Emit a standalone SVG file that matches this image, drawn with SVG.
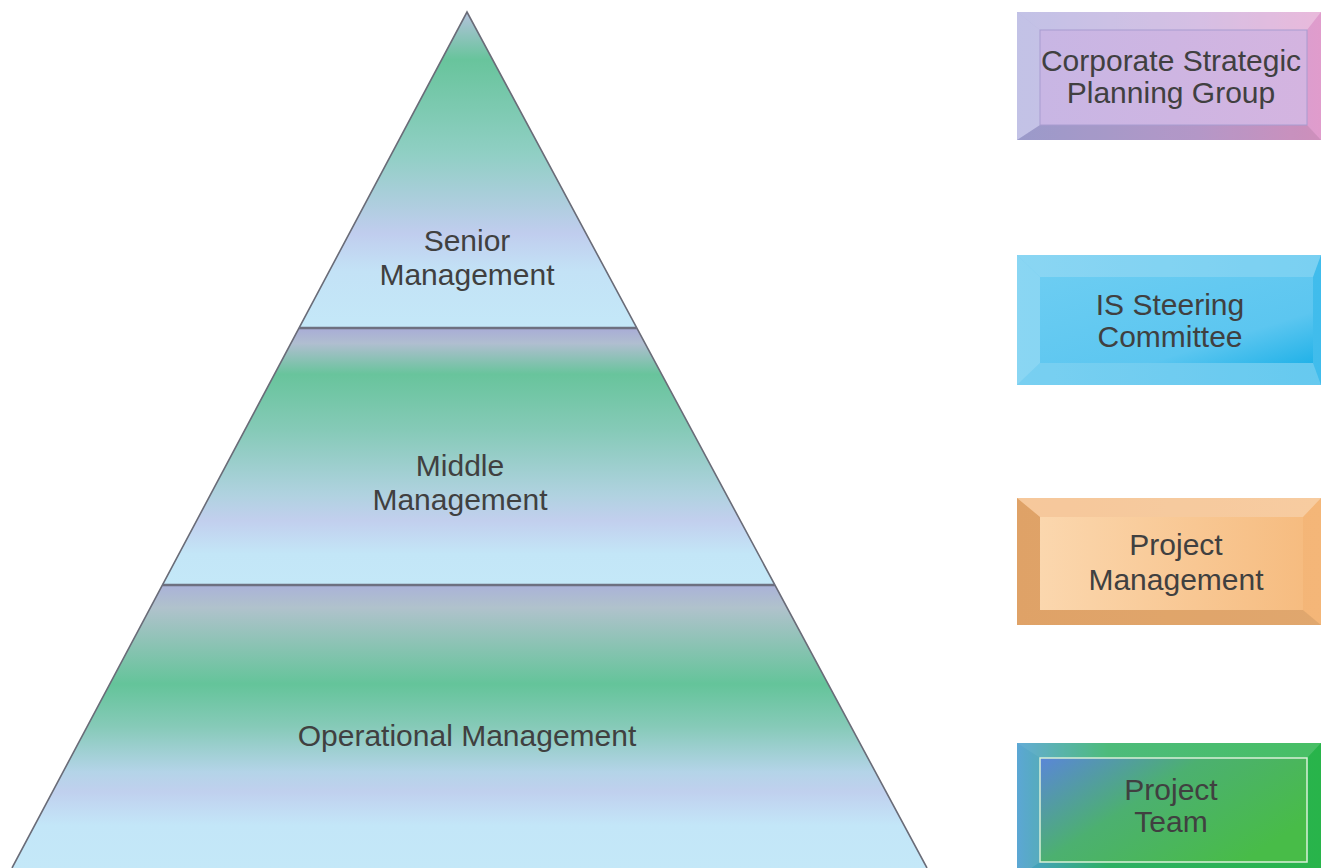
<svg xmlns="http://www.w3.org/2000/svg" width="1321" height="868" viewBox="0 0 1321 868">
<defs>
<linearGradient id="gSenior" x1="0" y1="0" x2="0" y2="1">
<stop offset="0" stop-color="#b4c2dc"/><stop offset="0.15" stop-color="#68c49c"/><stop offset="0.45" stop-color="#90cfc4"/><stop offset="0.7" stop-color="#c0cdee"/><stop offset="0.82" stop-color="#c3e2f6"/><stop offset="1" stop-color="#c4e8f8"/>
</linearGradient>
<linearGradient id="gMiddle" x1="0" y1="0" x2="0" y2="1">
<stop offset="0" stop-color="#a8acd6"/><stop offset="0.06" stop-color="#b0bed0"/><stop offset="0.18" stop-color="#68c49c"/><stop offset="0.4" stop-color="#86cab8"/><stop offset="0.65" stop-color="#b0d2e0"/><stop offset="0.75" stop-color="#c2cfee"/><stop offset="0.88" stop-color="#c3e6f7"/><stop offset="1" stop-color="#c4e8f8"/>
</linearGradient>
<linearGradient id="gOper" x1="0" y1="0" x2="0" y2="1">
<stop offset="0" stop-color="#aab2d8"/><stop offset="0.08" stop-color="#b0c2cc"/><stop offset="0.35" stop-color="#64c49a"/><stop offset="0.5" stop-color="#86cab8"/><stop offset="0.66" stop-color="#b4d4e8"/><stop offset="0.73" stop-color="#c0d0ee"/><stop offset="0.85" stop-color="#c3e6f8"/><stop offset="1" stop-color="#c4e8f8"/>
</linearGradient>
<linearGradient id="b1o" x1="0" y1="0" x2="1" y2="0"><stop offset="0" stop-color="#a8a8dc"/><stop offset="0.6" stop-color="#c4a4d8"/><stop offset="1" stop-color="#e09ccc"/></linearGradient>
<linearGradient id="b1i" x1="0" y1="0" x2="1" y2="0"><stop offset="0" stop-color="#c8b6e4"/><stop offset="1" stop-color="#d4b4e0"/></linearGradient>
<linearGradient id="b2o" x1="0" y1="0" x2="1" y2="0"><stop offset="0" stop-color="#58c4ee"/><stop offset="1" stop-color="#40bcec"/></linearGradient>
<linearGradient id="b2i" x1="0" y1="0" x2="1" y2="1"><stop offset="0" stop-color="#6ccdf2"/><stop offset="0.7" stop-color="#5cc6f0"/><stop offset="1" stop-color="#22b2e8"/></linearGradient>
<linearGradient id="b3o" x1="0" y1="0" x2="1" y2="0"><stop offset="0" stop-color="#f2b070"/><stop offset="1" stop-color="#f4b678"/></linearGradient>
<linearGradient id="b3i" x1="0" y1="0" x2="1" y2="0"><stop offset="0" stop-color="#fbd7ae"/><stop offset="1" stop-color="#f6bc80"/></linearGradient>
<linearGradient id="b4o" x1="0" y1="0" x2="1" y2="0"><stop offset="0" stop-color="#4a9ed0"/><stop offset="0.3" stop-color="#2eb064"/><stop offset="1" stop-color="#28b44a"/></linearGradient>
<linearGradient id="b4i" x1="0" y1="0" x2="1" y2="0.6"><stop offset="0" stop-color="#5a86d8"/><stop offset="0.45" stop-color="#4cb070"/><stop offset="1" stop-color="#48bc48"/></linearGradient>
</defs>
<style>
.lbl{font-family:"Liberation Sans",Arial,sans-serif;font-size:30px;fill:#404040;text-anchor:middle}
.edge{fill:none;stroke:#6a6c78;stroke-width:1.6}
.div{stroke:#6d7080;stroke-width:2.5}
.hl{fill:#ffffff;opacity:0.3}
.sh{fill:#000000;opacity:0.08}
</style>
<rect x="0" y="0" width="1321" height="868" fill="#ffffff"/>
<g id="operational">
<polygon points="162.4,585 774.9,585 927,868 12,868" fill="url(#gOper)"/>
<text class="lbl" x="467" y="746">Operational Management</text>
</g>
<g id="middle">
<polygon points="299,328 636.8,328 774.9,585 162.4,585" fill="url(#gMiddle)"/>
<text class="lbl" x="460" y="476">Middle</text>
<text class="lbl" x="460" y="510">Management</text>
</g>
<g id="senior">
<polygon points="467,12 636.8,328 299,328" fill="url(#gSenior)"/>
<text class="lbl" x="467" y="251">Senior</text>
<text class="lbl" x="467" y="285">Management</text>
</g>
<g id="connectors">
<polyline class="edge" points="12,868 467,12 927,868"/>
<line class="div" x1="299" y1="328" x2="636.8" y2="328"/>
<line class="div" x1="162.4" y1="585" x2="774.9" y2="585"/>
</g>
<g id="corporate">
<rect x="1017" y="12" width="304" height="128" fill="url(#b1o)"/>
<polygon points="1017,12 1321,12 1307,30 1040,30" class="hl"/>
<polygon points="1017,12 1040,30 1040,125 1017,140" class="hl"/>
<polygon points="1017,140 1040,125 1307,125 1321,140" class="sh"/>
<rect x="1040" y="30" width="267" height="95" fill="url(#b1i)" stroke="#a89cd0" stroke-width="1"/>
<text class="lbl" x="1171" y="71">Corporate Strategic</text>
<text class="lbl" x="1171" y="103">Planning Group</text>
</g>
<g id="steering">
<rect x="1017" y="255" width="304" height="130" fill="url(#b2o)"/>
<polygon points="1017,255 1321,255 1313,277 1040,277" class="hl"/>
<polygon points="1017,255 1040,277 1040,363 1017,385" class="hl"/>
<polygon points="1017,385 1040,363 1313,363 1321,385" fill="#ffffff" opacity="0.2"/>
<rect x="1040" y="277" width="273" height="86" fill="url(#b2i)"/>
<text class="lbl" x="1170" y="315">IS Steering</text>
<text class="lbl" x="1170" y="347">Committee</text>
</g>
<g id="projmgmt">
<rect x="1017" y="498" width="304" height="127" fill="url(#b3o)"/>
<polygon points="1017,498 1321,498 1303,517 1040,517" class="hl"/>
<polygon points="1017,498 1040,517 1040,610 1017,625" class="sh"/>
<polygon points="1017,625 1040,610 1303,610 1321,625" class="sh"/>
<rect x="1040" y="517" width="263" height="93" fill="url(#b3i)"/>
<text class="lbl" x="1176" y="555">Project</text>
<text class="lbl" x="1176" y="590">Management</text>
</g>
<g id="projteam">
<rect x="1017" y="743" width="304" height="135" fill="url(#b4o)"/>
<polygon points="1017,743 1321,743 1307,758 1040,758" fill="#ffffff" opacity="0.15"/>
<polygon points="1017,743 1040,758 1040,862 1017,878" fill="#ffffff" opacity="0.1"/>
<rect x="1040" y="758" width="267" height="104" fill="url(#b4i)" stroke="#d8f0d8" stroke-width="1.5"/>
<text class="lbl" x="1171" y="800">Project</text>
<text class="lbl" x="1171" y="832">Team</text>
</g>
</svg>
